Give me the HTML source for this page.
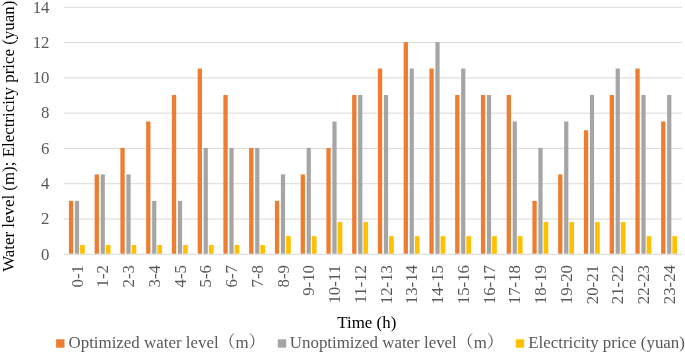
<!DOCTYPE html>
<html><head><meta charset="utf-8"><style>
html,body{margin:0;padding:0;background:#fff;}
body{width:685px;height:354px;overflow:hidden;}
svg{display:block;font-family:"Liberation Serif", "Noto Serif CJK SC", serif;}
</style></head><body>
<svg width="685" height="354" viewBox="0 0 685 354">
<rect width="685" height="354" fill="#fff"/>
<rect x="64.0" y="218.51" width="618.0" height="1" fill="#d9d9d9"/>
<rect x="64.0" y="183.23" width="618.0" height="1" fill="#d9d9d9"/>
<rect x="64.0" y="147.94" width="618.0" height="1" fill="#d9d9d9"/>
<rect x="64.0" y="112.66" width="618.0" height="1" fill="#d9d9d9"/>
<rect x="64.0" y="77.37" width="618.0" height="1" fill="#d9d9d9"/>
<rect x="64.0" y="42.08" width="618.0" height="1" fill="#d9d9d9"/>
<rect x="64.0" y="6.80" width="618.0" height="1" fill="#d9d9d9"/>
<rect x="68.90" y="200.87" width="4.3" height="52.93" fill="#ED7D31"/>
<rect x="74.90" y="200.87" width="4.2" height="52.93" fill="#A5A5A5"/>
<rect x="80.10" y="244.98" width="4.7" height="8.82" fill="#FFC000"/>
<rect x="94.65" y="174.41" width="4.3" height="79.39" fill="#ED7D31"/>
<rect x="100.65" y="174.41" width="4.2" height="79.39" fill="#A5A5A5"/>
<rect x="105.85" y="244.98" width="4.7" height="8.82" fill="#FFC000"/>
<rect x="120.40" y="147.94" width="4.3" height="105.86" fill="#ED7D31"/>
<rect x="126.40" y="174.41" width="4.2" height="79.39" fill="#A5A5A5"/>
<rect x="131.60" y="244.98" width="4.7" height="8.82" fill="#FFC000"/>
<rect x="146.15" y="121.48" width="4.3" height="132.32" fill="#ED7D31"/>
<rect x="152.15" y="200.87" width="4.2" height="52.93" fill="#A5A5A5"/>
<rect x="157.35" y="244.98" width="4.7" height="8.82" fill="#FFC000"/>
<rect x="171.90" y="95.01" width="4.3" height="158.79" fill="#ED7D31"/>
<rect x="177.90" y="200.87" width="4.2" height="52.93" fill="#A5A5A5"/>
<rect x="183.10" y="244.98" width="4.7" height="8.82" fill="#FFC000"/>
<rect x="197.65" y="68.55" width="4.3" height="185.25" fill="#ED7D31"/>
<rect x="203.65" y="147.94" width="4.2" height="105.86" fill="#A5A5A5"/>
<rect x="208.85" y="244.98" width="4.7" height="8.82" fill="#FFC000"/>
<rect x="223.40" y="95.01" width="4.3" height="158.79" fill="#ED7D31"/>
<rect x="229.40" y="147.94" width="4.2" height="105.86" fill="#A5A5A5"/>
<rect x="234.60" y="244.98" width="4.7" height="8.82" fill="#FFC000"/>
<rect x="249.15" y="147.94" width="4.3" height="105.86" fill="#ED7D31"/>
<rect x="255.15" y="147.94" width="4.2" height="105.86" fill="#A5A5A5"/>
<rect x="260.35" y="244.98" width="4.7" height="8.82" fill="#FFC000"/>
<rect x="274.90" y="200.87" width="4.3" height="52.93" fill="#ED7D31"/>
<rect x="280.90" y="174.41" width="4.2" height="79.39" fill="#A5A5A5"/>
<rect x="286.10" y="236.16" width="4.7" height="17.64" fill="#FFC000"/>
<rect x="300.65" y="174.41" width="4.3" height="79.39" fill="#ED7D31"/>
<rect x="306.65" y="147.94" width="4.2" height="105.86" fill="#A5A5A5"/>
<rect x="311.85" y="236.16" width="4.7" height="17.64" fill="#FFC000"/>
<rect x="326.40" y="147.94" width="4.3" height="105.86" fill="#ED7D31"/>
<rect x="332.40" y="121.48" width="4.2" height="132.32" fill="#A5A5A5"/>
<rect x="337.60" y="222.04" width="4.7" height="31.76" fill="#FFC000"/>
<rect x="352.15" y="95.01" width="4.3" height="158.79" fill="#ED7D31"/>
<rect x="358.15" y="95.01" width="4.2" height="158.79" fill="#A5A5A5"/>
<rect x="363.35" y="222.04" width="4.7" height="31.76" fill="#FFC000"/>
<rect x="377.90" y="68.55" width="4.3" height="185.25" fill="#ED7D31"/>
<rect x="383.90" y="95.01" width="4.2" height="158.79" fill="#A5A5A5"/>
<rect x="389.10" y="236.16" width="4.7" height="17.64" fill="#FFC000"/>
<rect x="403.65" y="42.08" width="4.3" height="211.72" fill="#ED7D31"/>
<rect x="409.65" y="68.55" width="4.2" height="185.25" fill="#A5A5A5"/>
<rect x="414.85" y="236.16" width="4.7" height="17.64" fill="#FFC000"/>
<rect x="429.40" y="68.55" width="4.3" height="185.25" fill="#ED7D31"/>
<rect x="435.40" y="42.08" width="4.2" height="211.72" fill="#A5A5A5"/>
<rect x="440.60" y="236.16" width="4.7" height="17.64" fill="#FFC000"/>
<rect x="455.15" y="95.01" width="4.3" height="158.79" fill="#ED7D31"/>
<rect x="461.15" y="68.55" width="4.2" height="185.25" fill="#A5A5A5"/>
<rect x="466.35" y="236.16" width="4.7" height="17.64" fill="#FFC000"/>
<rect x="480.90" y="95.01" width="4.3" height="158.79" fill="#ED7D31"/>
<rect x="486.90" y="95.01" width="4.2" height="158.79" fill="#A5A5A5"/>
<rect x="492.10" y="236.16" width="4.7" height="17.64" fill="#FFC000"/>
<rect x="506.65" y="95.01" width="4.3" height="158.79" fill="#ED7D31"/>
<rect x="512.65" y="121.48" width="4.2" height="132.32" fill="#A5A5A5"/>
<rect x="517.85" y="236.16" width="4.7" height="17.64" fill="#FFC000"/>
<rect x="532.40" y="200.87" width="4.3" height="52.93" fill="#ED7D31"/>
<rect x="538.40" y="147.94" width="4.2" height="105.86" fill="#A5A5A5"/>
<rect x="543.60" y="222.04" width="4.7" height="31.76" fill="#FFC000"/>
<rect x="558.15" y="174.41" width="4.3" height="79.39" fill="#ED7D31"/>
<rect x="564.15" y="121.48" width="4.2" height="132.32" fill="#A5A5A5"/>
<rect x="569.35" y="222.04" width="4.7" height="31.76" fill="#FFC000"/>
<rect x="583.90" y="130.30" width="4.3" height="123.50" fill="#ED7D31"/>
<rect x="589.90" y="95.01" width="4.2" height="158.79" fill="#A5A5A5"/>
<rect x="595.10" y="222.04" width="4.7" height="31.76" fill="#FFC000"/>
<rect x="609.65" y="95.01" width="4.3" height="158.79" fill="#ED7D31"/>
<rect x="615.65" y="68.55" width="4.2" height="185.25" fill="#A5A5A5"/>
<rect x="620.85" y="222.04" width="4.7" height="31.76" fill="#FFC000"/>
<rect x="635.40" y="68.55" width="4.3" height="185.25" fill="#ED7D31"/>
<rect x="641.40" y="95.01" width="4.2" height="158.79" fill="#A5A5A5"/>
<rect x="646.60" y="236.16" width="4.7" height="17.64" fill="#FFC000"/>
<rect x="661.15" y="121.48" width="4.3" height="132.32" fill="#ED7D31"/>
<rect x="667.15" y="95.01" width="4.2" height="158.79" fill="#A5A5A5"/>
<rect x="672.35" y="236.16" width="4.7" height="17.64" fill="#FFC000"/>
<rect x="64.0" y="253.80" width="618.0" height="1" fill="#d9d9d9"/>
<text x="49.5" y="259.60" text-anchor="end" fill="#595959" font-size="16.8">0</text>
<text x="49.5" y="224.31" text-anchor="end" fill="#595959" font-size="16.8">2</text>
<text x="49.5" y="189.03" text-anchor="end" fill="#595959" font-size="16.8">4</text>
<text x="49.5" y="153.74" text-anchor="end" fill="#595959" font-size="16.8">6</text>
<text x="49.5" y="118.46" text-anchor="end" fill="#595959" font-size="16.8">8</text>
<text x="49.5" y="83.17" text-anchor="end" fill="#595959" font-size="16.8">10</text>
<text x="49.5" y="47.88" text-anchor="end" fill="#595959" font-size="16.8">12</text>
<text x="49.5" y="12.60" text-anchor="end" fill="#595959" font-size="16.8">14</text>
<text transform="translate(82.67,265) rotate(-90)" text-anchor="end" fill="#595959" font-size="16.8">0-1</text>
<text transform="translate(108.42,265) rotate(-90)" text-anchor="end" fill="#595959" font-size="16.8">1-2</text>
<text transform="translate(134.18,265) rotate(-90)" text-anchor="end" fill="#595959" font-size="16.8">2-3</text>
<text transform="translate(159.93,265) rotate(-90)" text-anchor="end" fill="#595959" font-size="16.8">3-4</text>
<text transform="translate(185.68,265) rotate(-90)" text-anchor="end" fill="#595959" font-size="16.8">4-5</text>
<text transform="translate(211.43,265) rotate(-90)" text-anchor="end" fill="#595959" font-size="16.8">5-6</text>
<text transform="translate(237.18,265) rotate(-90)" text-anchor="end" fill="#595959" font-size="16.8">6-7</text>
<text transform="translate(262.93,265) rotate(-90)" text-anchor="end" fill="#595959" font-size="16.8">7-8</text>
<text transform="translate(288.68,265) rotate(-90)" text-anchor="end" fill="#595959" font-size="16.8">8-9</text>
<text transform="translate(314.43,265) rotate(-90)" text-anchor="end" fill="#595959" font-size="16.8">9-10</text>
<text transform="translate(340.18,265) rotate(-90)" text-anchor="end" fill="#595959" font-size="16.8">10-11</text>
<text transform="translate(365.93,265) rotate(-90)" text-anchor="end" fill="#595959" font-size="16.8">11-12</text>
<text transform="translate(391.68,265) rotate(-90)" text-anchor="end" fill="#595959" font-size="16.8">12-13</text>
<text transform="translate(417.43,265) rotate(-90)" text-anchor="end" fill="#595959" font-size="16.8">13-14</text>
<text transform="translate(443.18,265) rotate(-90)" text-anchor="end" fill="#595959" font-size="16.8">14-15</text>
<text transform="translate(468.93,265) rotate(-90)" text-anchor="end" fill="#595959" font-size="16.8">15-16</text>
<text transform="translate(494.68,265) rotate(-90)" text-anchor="end" fill="#595959" font-size="16.8">16-17</text>
<text transform="translate(520.42,265) rotate(-90)" text-anchor="end" fill="#595959" font-size="16.8">17-18</text>
<text transform="translate(546.17,265) rotate(-90)" text-anchor="end" fill="#595959" font-size="16.8">18-19</text>
<text transform="translate(571.92,265) rotate(-90)" text-anchor="end" fill="#595959" font-size="16.8">19-20</text>
<text transform="translate(597.67,265) rotate(-90)" text-anchor="end" fill="#595959" font-size="16.8">20-21</text>
<text transform="translate(623.42,265) rotate(-90)" text-anchor="end" fill="#595959" font-size="16.8">21-22</text>
<text transform="translate(649.17,265) rotate(-90)" text-anchor="end" fill="#595959" font-size="16.8">22-23</text>
<text transform="translate(674.92,265) rotate(-90)" text-anchor="end" fill="#595959" font-size="16.8">23-24</text>
<text transform="translate(13.9,136.3) rotate(-90)" text-anchor="middle" fill="#000" font-size="16.9">Water level (m); Electricity price (yuan)</text>
<text x="366.8" y="327.5" text-anchor="middle" fill="#000" font-size="16.9">Time (h)</text>
<rect x="56.1" y="339.3" width="8.4" height="8.4" fill="#ED7D31"/>
<text x="68.5" y="348.0" fill="#595959" font-size="16.9">Optimized water level（m）</text>
<rect x="277.8" y="339.3" width="8.4" height="8.4" fill="#A5A5A5"/>
<text x="289.8" y="348.0" fill="#595959" font-size="16.9">Unoptimized water level（m）</text>
<rect x="515.8" y="339.3" width="8.4" height="8.4" fill="#FFC000"/>
<text x="528.3" y="348.0" fill="#595959" font-size="16.9">Electricity price (yuan)</text>
</svg>
</body></html>
